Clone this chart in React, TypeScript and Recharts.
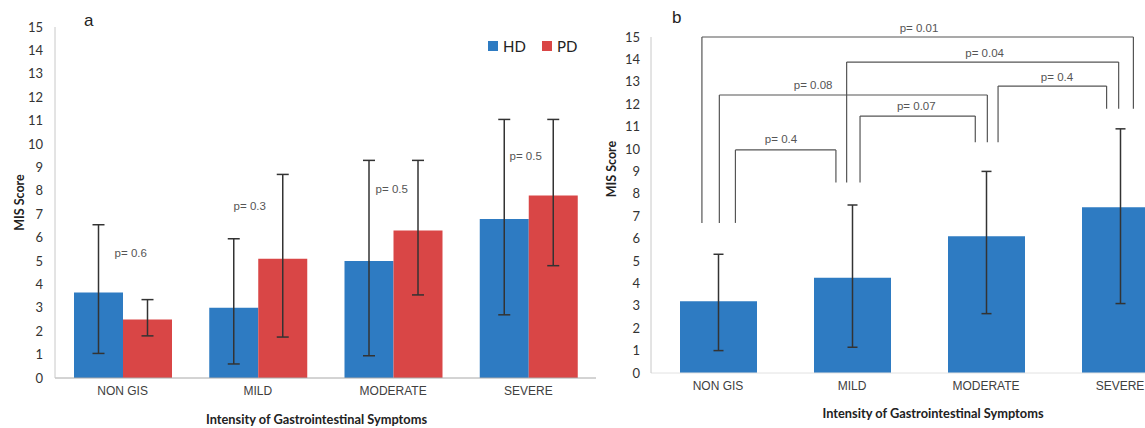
import React from "react";
import {
  BarChart,
  Bar,
  XAxis,
  YAxis,
  ErrorBar,
  ReferenceLine,
  ReferenceDot,
  Legend,
} from "recharts";

const categories = ["NON GIS", "MILD", "MODERATE", "SEVERE"];
const yTicks = [0, 1, 2, 3, 4, 5, 6, 7, 8, 9, 10, 11, 12, 13, 14, 15];

// panel a: HD vs PD
const hdMean = [3.65, 3.0, 5.0, 6.8];
const hdLow = [1.05, 0.6, 0.95, 2.7];
const hdHigh = [6.55, 5.95, 9.3, 11.05];
const pdMean = [2.5, 5.1, 6.3, 7.8];
const pdLow = [1.8, 1.75, 3.55, 4.8];
const pdHigh = [3.35, 8.7, 9.3, 11.05];
const pLabels = ["p= 0.6", "p= 0.3", "p= 0.5", "p= 0.5"];
const pLabelX = [0.56, 1.44, 2.49, 3.48];
const pLabelY = [5.35, 7.35, 8.1, 9.5];

// panel b: all patients
const allMean = [3.2, 4.25, 6.1, 7.4];
const allLow = [1.0, 1.15, 2.65, 3.1];
const allHigh = [5.3, 7.5, 9.0, 10.9];

// significance brackets (x on a 0..4 category scale)
const brackets = [
  { p: "p= 0.01", x1: 0.38, x2: 3.6, top: 15.0, base1: 6.7, base2: 11.8, lx: 2.0, ly: 15.4 },
  { p: "p= 0.04", x1: 1.46, x2: 3.49, top: 13.88, base1: 8.5, base2: 11.8, lx: 2.49, ly: 14.3 },
  { p: "p= 0.08", x1: 0.51, x2: 2.51, top: 12.41, base1: 6.7, base2: 10.3, lx: 1.21, ly: 12.86 },
  { p: "p= 0.07", x1: 1.56, x2: 2.42, top: 11.47, base1: 8.5, base2: 10.3, lx: 1.98, ly: 11.92 },
  { p: "p= 0.4", x1: 0.63, x2: 1.38, top: 9.96, base1: 6.7, base2: 8.5, lx: 0.97, ly: 10.45 },
  { p: "p= 0.4", x1: 2.59, x2: 3.4, top: 12.81, base1: 10.3, base2: 11.8, lx: 3.03, ly: 13.21 },
];

const leftData = categories.map((name, i) => ({
  name,
  pos: i + 0.5,
  hd: hdMean[i],
  pd: pdMean[i],
  hdErr: [hdMean[i] - hdLow[i], hdHigh[i] - hdMean[i]],
  pdErr: [pdMean[i] - pdLow[i], pdHigh[i] - pdMean[i]],
}));

const rightData = categories.map((name, i) => ({
  name,
  pos: i + 0.5,
  all: allMean[i],
  err: [allMean[i] - allLow[i], allHigh[i] - allMean[i]],
}));

const BLUE = "#2e7bc2";
const RED = "#d94646";
const ARIAL = "'Liberation Sans', Arial, sans-serif";
const CAL = "Lato, 'Open Sans', sans-serif";

function YTitle({ viewBox, text, dx = 8, dy = 0 }: any) {
  const cx = viewBox.x + dx;
  const cy = viewBox.y + viewBox.height / 2 + dy;
  return (
    <text
      x={cx}
      y={cy}
      transform={`rotate(-90 ${cx} ${cy})`}
      textAnchor="middle"
      dominantBaseline="central"
      fontFamily={CAL}
      fontWeight={700}
      fontSize={12.5}
      fill="#222"
    >
      {text}
    </text>
  );
}

function XTitle({ viewBox, text, dx = 0, dy = 40 }: any) {
  return (
    <text
      x={viewBox.x + viewBox.width / 2 + dx}
      y={viewBox.y + dy}
      textAnchor="middle"
      dominantBaseline="central"
      fontFamily={CAL}
      fontWeight={700}
      fontSize={12.8}
      fill="#222"
    >
      {text}
    </text>
  );
}

function LegendBox() {
  const item = (color: string, label: string, gap: number) => (
    <span style={{ display: "inline-flex", alignItems: "center", marginRight: gap }}>
      <span style={{ width: 10, height: 10, background: color, marginRight: 5 }} />
      <span>{label}</span>
    </span>
  );
  return (
    <div style={{ display: "flex", alignItems: "center", fontFamily: CAL, fontSize: 15, color: "#222" }}>
      {item(BLUE, "HD", 16)}
      {item(RED, "PD", 0)}
    </div>
  );
}

const tickY = { fill: "#333", fontSize: 13, fontFamily: CAL };
const tickX = { fill: "#404040", fontSize: 12, fontFamily: ARIAL };

export default function App() {
  return (
    <div
      style={{
        position: "fixed",
        left: 0,
        top: 0,
        width: 1145,
        height: 428,
        overflow: "hidden",
        background: "#fff",
      }}
    >
      <div style={{ position: "absolute", left: 84, top: 11, fontFamily: ARIAL, fontSize: 17, color: "#222" }}>a</div>
      <div style={{ position: "absolute", left: 672, top: 8, fontFamily: ARIAL, fontSize: 17, color: "#222" }}>b</div>

      <div style={{ position: "absolute", left: 0, top: 0 }}>
        <BarChart
          width={600}
          height={428}
          data={leftData}
          margin={{ top: 27, right: 4, bottom: 20, left: 10 }}
          barGap={0}
          barSize={49}
        >
          <XAxis
            dataKey="name"
            height={30}
            interval={0}
            tickLine={false}
            axisLine={{ stroke: "#a8a8a8" }}
            tick={tickX}
            label={<XTitle text="Intensity of Gastrointestinal Symptoms" dx={-9} dy={41} />}
          />
          <XAxis xAxisId="n" dataKey="pos" type="number" domain={[0, 4]} allowDataOverflow hide />
          <YAxis
            domain={[0, 15]}
            ticks={yTicks}
            interval={0}
            width={45}
            tickLine={false}
            tickMargin={6}
            axisLine={{ stroke: "#c8c8c8" }}
            tick={tickY}
            label={<YTitle text="MIS Score" dx={9} />}
          />
          <Bar dataKey="hd" name="HD" fill={BLUE} isAnimationActive={false}>
            <ErrorBar dataKey="hdErr" width={6} stroke="#333" strokeWidth={1.5} direction="y" isAnimationActive={false} />
          </Bar>
          <Bar dataKey="pd" name="PD" fill={RED} isAnimationActive={false}>
            <ErrorBar dataKey="pdErr" width={6} stroke="#333" strokeWidth={1.5} direction="y" isAnimationActive={false} />
          </Bar>
          {pLabels.map((p, i) => (
            <ReferenceDot
              key={"p" + i}
              xAxisId="n"
              x={pLabelX[i]}
              y={pLabelY[i]}
              r={0}
              stroke="none"
              fill="none"
              ifOverflow="visible"
              label={{ value: p, position: "center", fill: "#555", fontSize: 11.5, fontFamily: ARIAL }}
            />
          ))}
          <Legend
            layout="horizontal"
            verticalAlign="middle"
            align="center"
            wrapperStyle={{ top: 37, left: 488, width: "auto" }}
            content={() => <LegendBox />}
          />
        </BarChart>
      </div>

      <div style={{ position: "absolute", left: 596, top: 0 }}>
        <BarChart
          width={600}
          height={428}
          data={rightData}
          margin={{ top: 37, right: 9, bottom: 25, left: 10 }}
          barSize={77}
        >
          <XAxis
            dataKey="name"
            height={30}
            interval={0}
            tickLine={false}
            axisLine={{ stroke: "#e2e2e2" }}
            tick={tickX}
            label={<XTitle text="Intensity of Gastrointestinal Symptoms" dx={14} dy={40} />}
          />
          <XAxis xAxisId="n" dataKey="pos" type="number" domain={[0, 4]} allowDataOverflow hide />
          <YAxis
            domain={[0, 15]}
            ticks={yTicks}
            interval={0}
            width={45}
            tickLine={false}
            tickMargin={5}
            axisLine={{ stroke: "#c8c8c8" }}
            tick={tickY}
            label={<YTitle text="MIS  Score" dx={5} dy={-36} />}
          />
          <Bar dataKey="all" fill={BLUE} isAnimationActive={false}>
            <ErrorBar dataKey="err" width={5} stroke="#333" strokeWidth={1.5} direction="y" isAnimationActive={false} />
          </Bar>
          {brackets.map((b, i) => [
            <ReferenceLine
              key={"l" + i}
              xAxisId="n"
              ifOverflow="visible"
              stroke="#555"
              strokeWidth={1.2}
              segment={[{ x: b.x1, y: b.base1 }, { x: b.x1, y: b.top }]}
            />,
            <ReferenceLine
              key={"h" + i}
              xAxisId="n"
              ifOverflow="visible"
              stroke="#555"
              strokeWidth={1.2}
              segment={[{ x: b.x1, y: b.top }, { x: b.x2, y: b.top }]}
            />,
            <ReferenceLine
              key={"r" + i}
              xAxisId="n"
              ifOverflow="visible"
              stroke="#555"
              strokeWidth={1.2}
              segment={[{ x: b.x2, y: b.top }, { x: b.x2, y: b.base2 }]}
            />,
            <ReferenceDot
              key={"t" + i}
              xAxisId="n"
              x={b.lx}
              y={b.ly}
              r={0}
              stroke="none"
              fill="none"
              ifOverflow="visible"
              label={{ value: b.p, position: "center", fill: "#555", fontSize: 11.5, fontFamily: ARIAL }}
            />,
          ])}
        </BarChart>
      </div>
    </div>
  );
}
